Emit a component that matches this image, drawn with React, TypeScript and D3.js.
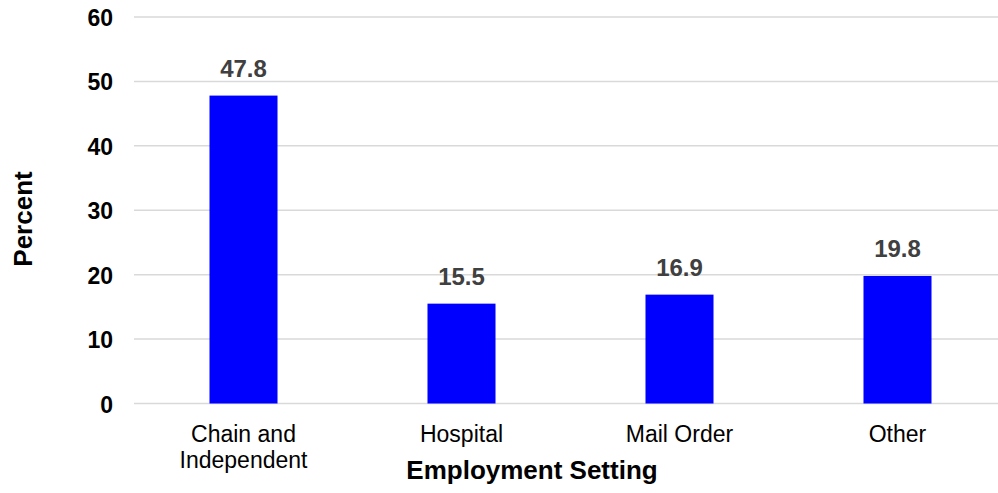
import React from "react";
import * as d3 from "d3";

const categories = ["Chain and\nIndependent", "Hospital", "Mail Order", "Other"];
const values = [47.8, 15.5, 16.9, 19.8];
const yTicks = [0, 10, 20, 30, 40, 50, 60];
const xTitle = "Employment Setting";
const yTitle = "Percent";

const W = 998;
const H = 493;
const FONT = "'Liberation Sans', Arial, sans-serif";

export default function App() {
  const x = d3
    .scaleBand<string>()
    .domain(categories)
    .range([134.5, 1006.5])
    .paddingInner(0.688)
    .paddingOuter(0.344);
  const y = d3.scaleLinear().domain([0, 60]).range([403.5, 17]);

  return (
    <svg
      width={W}
      height={H}
      style={{ position: "absolute", left: 0, top: 0, background: "#fff" }}
      fontFamily={FONT}
    >
      {yTicks.map((t) => (
        <g key={t}>
          <line x1={134} x2={998} y1={y(t)} y2={y(t)} stroke="#d9d9d9" strokeWidth={1.5} />
          <text x={113} y={y(t) + 9} textAnchor="end" fontSize={23} fontWeight="bold" fill="#000">
            {t}
          </text>
        </g>
      ))}
      {categories.map((c, i) => {
        const bx = x(c)!;
        const cx = bx + x.bandwidth() / 2;
        const lines = c.split("\n");
        return (
          <g key={c}>
            <rect x={bx} y={y(values[i])} width={x.bandwidth()} height={y(0) - y(values[i])} fill="#0000ff" />
            <text x={cx} y={y(values[i]) - 19} textAnchor="middle" fontSize={24} fontWeight="bold" fill="#404040">
              {values[i].toFixed(1)}
            </text>
            {lines.map((l, j) => (
              <text key={j} x={cx} y={442 + j * 26} textAnchor="middle" fontSize={23} fill="#000">
                {l}
              </text>
            ))}
          </g>
        );
      })}
      <text x={532} y={479} textAnchor="middle" fontSize={26} fontWeight="bold" fill="#000">
        {xTitle}
      </text>
      <text
        transform={`translate(32,219) rotate(-90)`}
        textAnchor="middle"
        fontSize={26}
        fontWeight="bold"
        fill="#000"
      >
        {yTitle}
      </text>
    </svg>
  );
}
